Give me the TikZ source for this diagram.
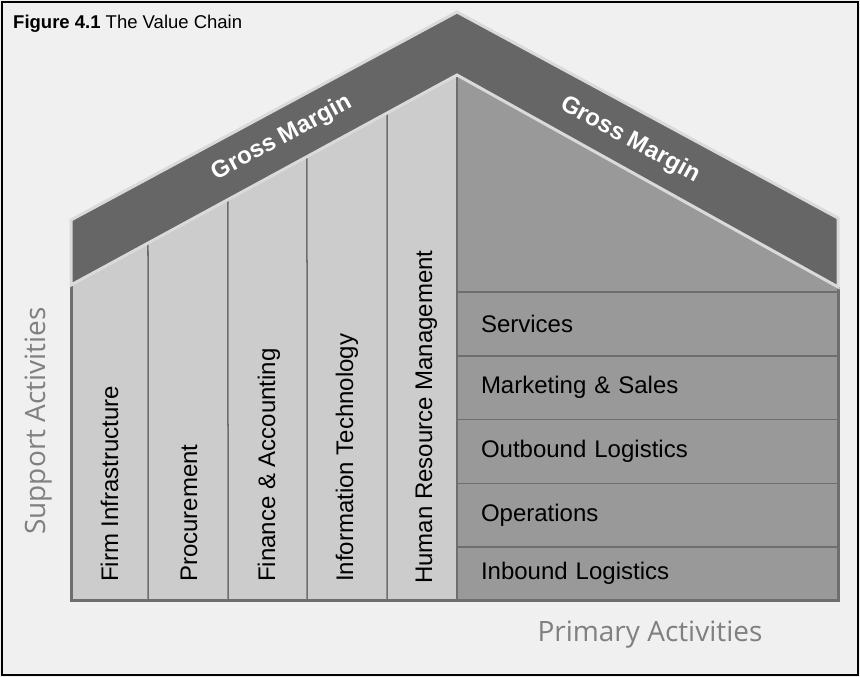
\documentclass[tikz,border=0pt]{standalone}
\usepackage{fontspec}
\setmainfont{Liberation Sans}
\newfontfamily\sidefont{Open Sans}
\usetikzlibrary{positioning,calc}
\definecolor{bggray}{HTML}{F0F0F0}
\definecolor{roofgray}{HTML}{666666}
\definecolor{rimgray}{HTML}{DADADA}
\definecolor{supgray}{HTML}{CCCCCC}
\definecolor{primgray}{HTML}{999999}
\definecolor{edgegray}{HTML}{6E6E6E}
\definecolor{capgray}{HTML}{808080}

\begin{document}
\begin{tikzpicture}[x=1pt,y=-1pt,
		activity/.style={rectangle,draw=edgegray,line width=1.5pt,fill=primgray,minimum width=381pt,minimum height=63.75pt,
			text width=333pt,inner xsep=24pt,inner ysep=0pt,outer sep=0pt,align=left,font=\fontsize{24}{28}\selectfont},
		support/.style={rotate=90,anchor=base west,inner sep=2pt,font=\fontsize{24}{28}\selectfont},
		margin/.style={text=white,font=\bfseries\fontsize{24}{28}\selectfont},
		side/.style={text=capgray,font=\sidefont\fontsize{28}{32}\selectfont}]
		% frame
		\fill[bggray] (0,0) rectangle (860,677);
		\draw[line width=2pt] (2,2) rectangle (858,675);
		
		\coordinate (lo)  at (71,220);
		\coordinate (top) at (457,12);
		\coordinate (ro)  at (838,218);
		\coordinate (li)  at (71,285);
		\coordinate (ap)  at (457,75);
		\coordinate (ri)  at (838,287);
		\coordinate (lb)  at (71,600);
		\coordinate (mb)  at (457,600);
		\coordinate (rb)  at (838,600);
		
		\fill[supgray]  (li) -- (ap) -- (mb) -- (lb) -- cycle;
		\fill[primgray] (ap) -- (ri) -- (rb) -- (mb) -- cycle;
		\foreach \x in {148,228,307,387}
			\draw[edgegray,line width=1.5pt] ($(li)!{(\x-71)/386}!(ap)$) -- (\x,600);
		
		\node[activity,anchor=north west] (srv) at (457,292) {Services};
		\node[activity,below=0pt of srv]  (mkt) {Marketing \& Sales};
		\node[activity,below=0pt of mkt]  (out) {Outbound Logistics};
		\node[activity,below=0pt of out]  (ops) {Operations};
		\node[activity,below=0pt of ops,minimum height=53pt] (inb) {Inbound Logistics};
		
		\draw[edgegray,line width=3pt] (li) -- (lb) -- (rb) -- (ri);
		\draw[edgegray,line width=2pt] (ap) -- (mb);
		
		% roof
		\filldraw[fill=roofgray,draw=rimgray,line width=3pt] (lo) -- (top) -- (ro) -- (ri) -- (ap) -- (li) -- cycle;
		\node[margin,rotate=28.4]  (gml) at (282,138) {Gross Margin};
		\node[margin,rotate=-28.4] (gmr) at (630,140) {Gross Margin};
		
		\node[support] (firm) at (118,584) {Firm Infrastructure};
		\node[support] (proc) at (197,584) {Procurement};
		\node[support] (fin)  at (275,584) {Finance \& Accounting};
		\node[support] (it)   at (353,584) {Information Technology};
		\node[support] (hrm)  at (432,586) {Human Resource Management};
		
		\node[anchor=base west,inner sep=0pt,font=\fontsize{18.5}{22}\selectfont] (title) at (13,29) {\textbf{Figure 4.1} The Value Chain};
		\node[side,rotate=90] (sup) at (39,421) {Support Activities};
		\node[side] (pri) at (650,635) {Primary Activities};
\end{tikzpicture}
\end{document}
